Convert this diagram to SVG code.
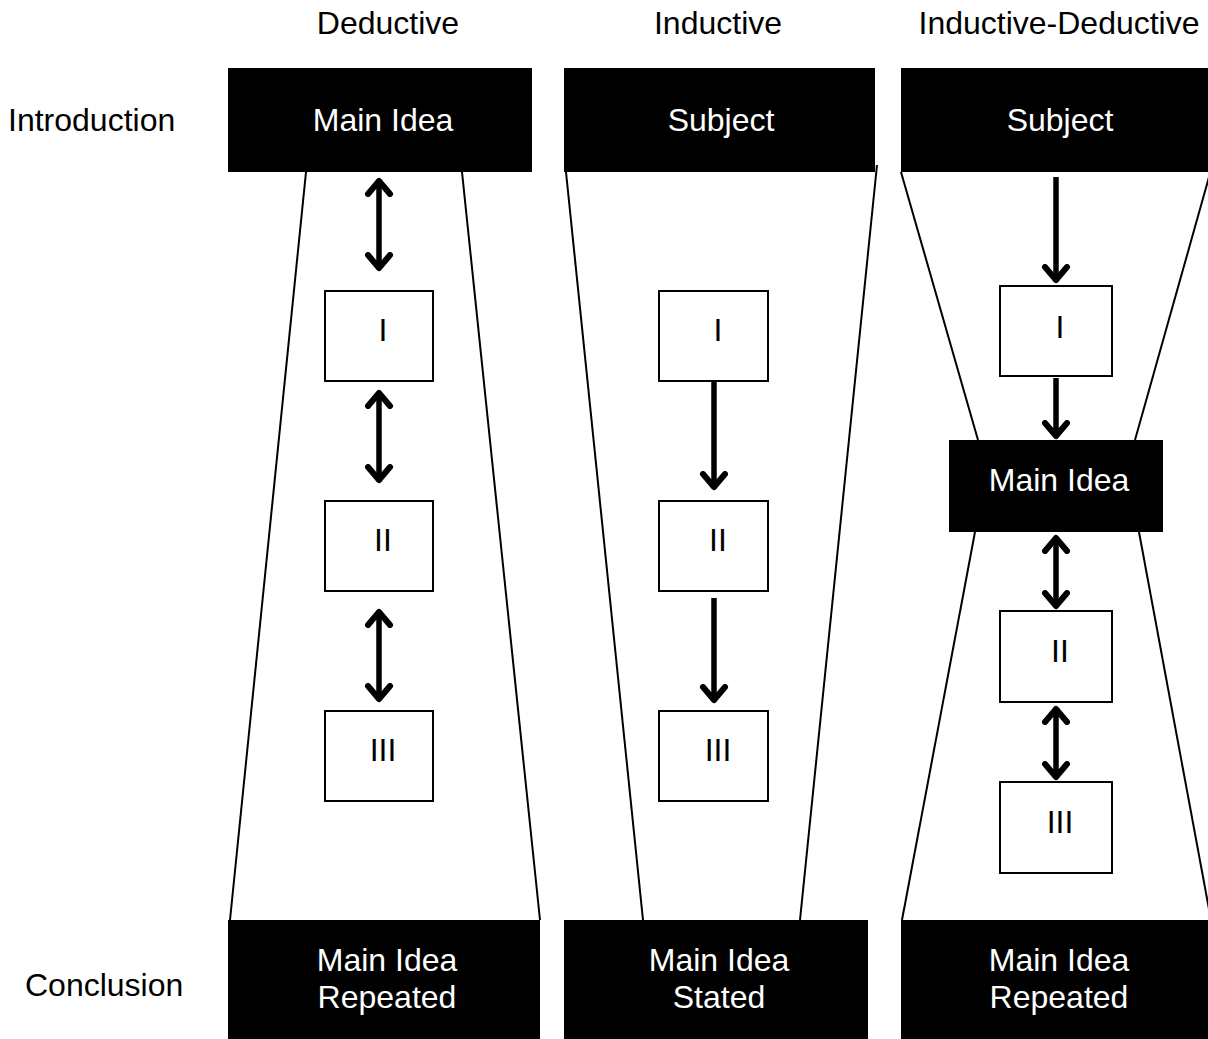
<svg xmlns="http://www.w3.org/2000/svg" width="1208" height="1039" viewBox="0 0 1208 1039">
<style>
text{font-family:"Liberation Sans",Arial,sans-serif;font-size:32px;text-anchor:middle}
.lab{fill:#000}
.w{fill:#fff}
.blk{fill:#000}
.box{fill:#fff;stroke:#000;stroke-width:2}
.edge{stroke:#000;stroke-width:2;fill:none}
.arr{stroke:#000;stroke-width:5.5;fill:none}
</style>
<defs>
<marker id="chev" markerUnits="userSpaceOnUse" markerWidth="30" markerHeight="30" viewBox="0 0 30 30" refX="16" refY="15" orient="auto-start-reverse">
<path d="M3,4 L16,15 L3,26" fill="none" stroke="#000" stroke-width="6" stroke-linecap="round" stroke-linejoin="round"/>
</marker>
</defs>
<rect width="1208" height="1039" fill="#fff"/>
<g id="headers">
<text class="lab" x="388" y="34">Deductive</text>
<text class="lab" x="718" y="34">Inductive</text>
<text class="lab" x="1059" y="34">Inductive-Deductive</text>
<text class="lab" x="8" y="131" style="text-anchor:start">Introduction</text>
<text class="lab" x="25" y="996" style="text-anchor:start">Conclusion</text>
</g>
<g id="outlines">
<line class="edge" x1="306" y1="172" x2="230" y2="920"/>
<line class="edge" x1="462" y1="172" x2="540" y2="920"/>
<line class="edge" x1="566" y1="172" x2="643" y2="920"/>
<line class="edge" x1="877" y1="165" x2="800" y2="920"/>
<line class="edge" x1="901" y1="172" x2="978" y2="440"/>
<line class="edge" x1="1211" y1="170" x2="1135" y2="440"/>
<line class="edge" x1="975" y1="532" x2="902" y2="920"/>
<line class="edge" x1="1139" y1="532" x2="1211" y2="920"/>
</g>
<g id="ded-top"><rect class="blk" x="228" y="68" width="304" height="104"/><text class="w" x="383" y="131">Main Idea</text></g>
<g id="ded-1"><rect class="box" x="325" y="291" width="108" height="90"/><text class="lab" x="383" y="341">I</text></g>
<g id="ded-2"><rect class="box" x="325" y="501" width="108" height="90"/><text class="lab" x="383" y="551">II</text></g>
<g id="ded-3"><rect class="box" x="325" y="711" width="108" height="90"/><text class="lab" x="383" y="761">III</text></g>
<g id="ded-bottom"><rect class="blk" x="228" y="920" width="312" height="119"/><text class="w" x="387" y="971">Main Idea</text><text class="w" x="387" y="1008">Repeated</text></g>
<g id="ind-top"><rect class="blk" x="564" y="68" width="311" height="104"/><text class="w" x="721" y="131">Subject</text></g>
<g id="ind-1"><rect class="box" x="659" y="291" width="109" height="90"/><text class="lab" x="718" y="341">I</text></g>
<g id="ind-2"><rect class="box" x="659" y="501" width="109" height="90"/><text class="lab" x="718" y="551">II</text></g>
<g id="ind-3"><rect class="box" x="659" y="711" width="109" height="90"/><text class="lab" x="718" y="761">III</text></g>
<g id="ind-bottom"><rect class="blk" x="564" y="920" width="304" height="119"/><text class="w" x="719" y="971">Main Idea</text><text class="w" x="719" y="1008">Stated</text></g>
<g id="id-top"><rect class="blk" x="901" y="68" width="307" height="104"/><text class="w" x="1060" y="131">Subject</text></g>
<g id="id-1"><rect class="box" x="1000" y="286" width="112" height="90"/><text class="lab" x="1060" y="338">I</text></g>
<g id="id-main"><rect class="blk" x="949" y="440" width="214" height="92"/><text class="w" x="1059" y="491">Main Idea</text></g>
<g id="id-2"><rect class="box" x="1000" y="611" width="112" height="91"/><text class="lab" x="1060" y="662">II</text></g>
<g id="id-3"><rect class="box" x="1000" y="782" width="112" height="91"/><text class="lab" x="1060" y="833">III</text></g>
<g id="id-bottom"><rect class="blk" x="901" y="920" width="307" height="119"/><text class="w" x="1059" y="971">Main Idea</text><text class="w" x="1059" y="1008">Repeated</text></g>
<g id="connectors">
<line class="arr" x1="379" y1="181" x2="379" y2="268" marker-start="url(#chev)" marker-end="url(#chev)"/>
<line class="arr" x1="379" y1="393" x2="379" y2="480" marker-start="url(#chev)" marker-end="url(#chev)"/>
<line class="arr" x1="379" y1="612" x2="379" y2="699" marker-start="url(#chev)" marker-end="url(#chev)"/>
<line class="arr" x1="714" y1="381" x2="714" y2="487" marker-end="url(#chev)"/>
<line class="arr" x1="714" y1="598" x2="714" y2="700" marker-end="url(#chev)"/>
<line class="arr" x1="1056" y1="177" x2="1056" y2="280" marker-end="url(#chev)"/>
<line class="arr" x1="1056" y1="378" x2="1056" y2="436" marker-end="url(#chev)"/>
<line class="arr" x1="1056" y1="538" x2="1056" y2="606" marker-start="url(#chev)" marker-end="url(#chev)"/>
<line class="arr" x1="1056" y1="709" x2="1056" y2="777" marker-start="url(#chev)" marker-end="url(#chev)"/>
</g>
</svg>
